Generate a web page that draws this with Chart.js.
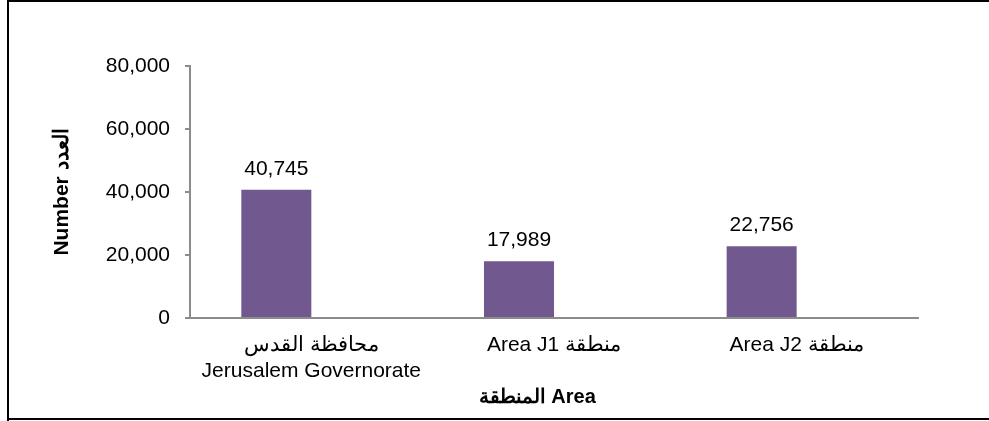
<!DOCTYPE html>
<html>
<head>
<meta charset="utf-8">
<script src="https://cdn.jsdelivr.net/npm/chart.js@4"></script>
<style>
  body { margin: 0; background: #fff; overflow: hidden; }
  .linea { position: absolute; background: #000; }
  #grafica { position: absolute; left: 0; top: 0; }
</style>
</head>
<body>
<!-- marco del grafico: izquierda, arriba y abajo (sin lado derecho) -->
<div class="linea" style="left:7px; top:0; width:2px; height:421px;"></div>
<div class="linea" style="left:7px; top:0; width:982px; height:2px;"></div>
<div class="linea" style="left:7px; top:418px; width:982px; height:2px;"></div>
<canvas id="grafica" width="989" height="421"></canvas>
<script>
// datos
const categorias = [
  ['محافظة القدس', 'Jerusalem Governorate'],
  'Area J1 منطقة',
  'Area J2 منطقة'
];
const valores = [40745, 17989, 22756];
const vacio = [null, null, null];   // serie oculta (Excel deja el hueco)
const ticksY = [0, 20000, 40000, 60000, 80000];

const fuente = '"Liberation Sans", Arial, sans-serif';

const etiquetasValores = {
  id: 'etiquetasValores',
  afterDatasetsDraw(chart) {
    const ctx = chart.ctx;
    const meta = chart.getDatasetMeta(0);
    ctx.save();
    ctx.font = '21px ' + fuente;
    ctx.fillStyle = '#000';
    ctx.textAlign = 'center';
    ctx.textBaseline = 'alphabetic';
    meta.data.forEach((barra, i) => {
      ctx.fillText(valores[i].toLocaleString('en-US'), barra.x, barra.y - 15);
    });
    ctx.restore();
  }
};

function dibujarGrafica() {
  const ctx = document.getElementById('grafica').getContext('2d');

  new Chart(ctx, {
    type: 'bar',
    data: {
      labels: categorias,
      datasets: [
        { label: 'Number', data: valores, backgroundColor: '#71598f', borderWidth: 0 },
        { label: '', data: vacio, backgroundColor: '#71598f' }
      ]
    },
    options: {
      responsive: false,
      animation: false,
      categoryPercentage: 0.577,
      barPercentage: 1,
      layout: { padding: { left: 40, top: 66, right: 71, bottom: 0 } },
      plugins: {
        legend: { display: false },
        tooltip: { enabled: false }
      },
      scales: {
        y: {
          min: ticksY[0],
          max: ticksY[ticksY.length - 1],
          afterFit: s => { s.width = 150; },
          afterBuildTicks: s => { s.ticks = ticksY.map(v => ({ value: v })); },
          ticks: {
            color: '#000',
            padding: 15,
            font: { family: fuente, size: 21 },
            callback: v => Number(v).toLocaleString('en-US')
          },
          grid: { drawOnChartArea: false, drawTicks: true, tickLength: 5, color: '#8c8c8c', lineWidth: 2 },
          border: { color: '#8c8c8c', width: 2 },
          title: {
            display: true,
            text: 'Number العدد',
            color: '#000',
            padding: { top: 10, bottom: 0 },
            font: { family: fuente, size: 21, weight: 'bold' }
          }
        },
        x: {
          afterFit: s => { s.height = 103; },
          ticks: {
            color: '#000',
            padding: 15,
            maxRotation: 0,
            font: { family: fuente, size: 21 }
          },
          grid: { display: false, drawTicks: false },
          border: { color: '#8c8c8c', width: 2 },
          title: {
            display: true,
            // espacios al final para correr el titulo a la izquierda como en Excel
            text: 'المنطقة Area      ',
            color: '#000',
            padding: { top: 0, bottom: 12 },
            font: { family: fuente, size: 20, weight: 'bold' }
          }
        }
      }
    },
    plugins: [etiquetasValores]
  });
}

dibujarGrafica();
</script>
</body>
</html>
